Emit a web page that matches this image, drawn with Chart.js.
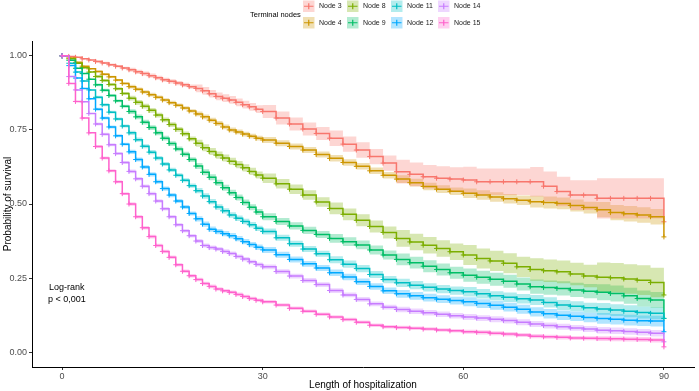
<!DOCTYPE html>
<html>
<head>
<meta charset="utf-8">
<script src="https://cdn.jsdelivr.net/npm/chart.js@4.4.1/dist/chart.umd.min.js"></script>
<style>
  html, body { margin: 0; padding: 0; background: #fff; }
  canvas { display: block; }
</style>
</head>
<body>
<canvas id="km" width="699" height="391"></canvas>
<script>
// time points (days of hospitalization)
const days = [0,1,2,3,4,5,6,7,8,9,10,11,12,13,14,15,16,17,18,19,20,21,22,23,24,25,26,27,28,29,30,
  32,34,36,38,40,42,44,46,48,50,52,54,56,58,60,62,64,66,68,70,72,74,76,78,80,82,84,86,88,90];

// survival probability per terminal node
const node3 = [1.0,0.998,0.995,0.99,0.986,0.981,0.976,0.97,0.965,0.959,0.953,0.946,0.94,0.933,0.926,0.919,0.914,0.908,0.902,0.896,0.89,0.882,0.872,0.863,0.857,0.851,0.843,0.835,0.828,0.82,0.812,
  0.79,0.77,0.753,0.738,0.722,0.702,0.682,0.66,0.638,0.609,0.6,0.592,0.587,0.584,0.581,0.575,0.575,0.575,0.575,0.575,0.56,0.542,0.53,0.53,0.519,0.519,0.519,0.519,0.519,0.44];
const node4 = [1.0,0.993,0.978,0.965,0.956,0.947,0.938,0.929,0.918,0.907,0.896,0.887,0.878,0.869,0.86,0.851,0.842,0.833,0.824,0.814,0.804,0.794,0.783,0.772,0.76,0.75,0.743,0.736,0.729,0.722,0.716,
  0.705,0.694,0.682,0.667,0.654,0.64,0.627,0.612,0.597,0.584,0.572,0.559,0.55,0.543,0.536,0.53,0.524,0.518,0.513,0.508,0.505,0.502,0.495,0.488,0.481,0.471,0.467,0.463,0.457,0.389];
const node8 = [1.0,0.99,0.975,0.96,0.945,0.93,0.917,0.903,0.889,0.873,0.857,0.843,0.83,0.816,0.8,0.784,0.768,0.752,0.737,0.72,0.705,0.69,0.677,0.665,0.655,0.644,0.633,0.622,0.61,0.598,0.587,
  0.568,0.55,0.53,0.507,0.485,0.465,0.445,0.424,0.404,0.384,0.372,0.361,0.35,0.339,0.328,0.316,0.308,0.3,0.288,0.279,0.275,0.271,0.264,0.257,0.253,0.251,0.247,0.243,0.235,0.193];
const node9 = [1.0,0.985,0.958,0.94,0.921,0.902,0.884,0.866,0.848,0.83,0.812,0.794,0.776,0.758,0.74,0.722,0.704,0.686,0.668,0.65,0.628,0.607,0.59,0.572,0.555,0.538,0.522,0.505,0.489,0.473,0.457,
  0.441,0.426,0.411,0.397,0.384,0.373,0.362,0.345,0.328,0.313,0.302,0.29,0.279,0.268,0.26,0.253,0.246,0.239,0.23,0.221,0.218,0.215,0.21,0.206,0.202,0.198,0.19,0.181,0.176,0.114];
const node11 = [1.0,0.975,0.945,0.915,0.885,0.86,0.835,0.81,0.787,0.763,0.74,0.717,0.695,0.675,0.655,0.635,0.615,0.597,0.58,0.562,0.545,0.527,0.508,0.49,0.477,0.463,0.452,0.441,0.43,0.418,0.407,
  0.386,0.366,0.348,0.332,0.312,0.297,0.282,0.262,0.245,0.234,0.226,0.219,0.213,0.208,0.204,0.197,0.19,0.185,0.18,0.176,0.168,0.159,0.155,0.15,0.146,0.142,0.138,0.134,0.131,0.114];
const node12 = [1.0,0.967,0.925,0.89,0.855,0.82,0.79,0.76,0.73,0.702,0.676,0.65,0.625,0.6,0.575,0.552,0.53,0.51,0.49,0.468,0.45,0.432,0.415,0.407,0.4,0.393,0.383,0.373,0.363,0.354,0.345,
  0.329,0.313,0.298,0.284,0.268,0.254,0.238,0.222,0.207,0.197,0.19,0.184,0.179,0.174,0.17,0.164,0.158,0.152,0.145,0.136,0.13,0.125,0.121,0.117,0.114,0.111,0.108,0.106,0.105,0.069];
const node14 = [1.0,0.93,0.885,0.845,0.805,0.77,0.735,0.7,0.67,0.64,0.61,0.585,0.56,0.535,0.51,0.484,0.457,0.43,0.41,0.393,0.375,0.36,0.353,0.348,0.34,0.333,0.323,0.314,0.305,0.296,0.288,
  0.272,0.257,0.242,0.228,0.208,0.193,0.178,0.163,0.152,0.144,0.138,0.133,0.128,0.123,0.119,0.115,0.111,0.107,0.101,0.095,0.09,0.086,0.082,0.078,0.074,0.072,0.07,0.067,0.064,0.035];
const node15 = [1.0,0.907,0.846,0.79,0.74,0.694,0.655,0.612,0.575,0.535,0.5,0.457,0.42,0.39,0.36,0.34,0.32,0.295,0.273,0.258,0.245,0.232,0.222,0.213,0.207,0.202,0.195,0.188,0.181,0.175,0.17,
  0.159,0.148,0.138,0.128,0.119,0.11,0.101,0.091,0.086,0.083,0.081,0.078,0.075,0.072,0.069,0.067,0.064,0.061,0.058,0.054,0.052,0.05,0.048,0.047,0.046,0.045,0.044,0.043,0.041,0.018];

// half width of the confidence band, from each of these days on
const bandDays = [0,5,10,20,30,40,50,60,70,80];
const band3  = [0,0.004,0.007,0.013,0.022,0.026,0.04,0.045,0.05,0.068];
const band4  = [0,0.004,0.006,0.008,0.01,0.011,0.013,0.016,0.02,0.026];
const band8  = [0,0.005,0.008,0.012,0.016,0.02,0.028,0.034,0.038,0.05];
const band9  = [0,0.005,0.008,0.01,0.012,0.015,0.02,0.022,0.024,0.027];
const band11 = [0,0.005,0.007,0.009,0.01,0.012,0.014,0.016,0.017,0.02];
const band12 = [0,0.005,0.007,0.009,0.01,0.011,0.013,0.015,0.016,0.018];
const band14 = [0,0.005,0.006,0.007,0.008,0.008,0.009,0.01,0.01,0.011];
const band15 = [0,0.005,0.006,0.006,0.006,0.006,0.006,0.007,0.007,0.008];

const nodeNames = ['Node 3','Node 4','Node 8','Node 9','Node 11','Node 12','Node 14','Node 15'];
const nodeColors = ['#F8766D','#CD9600','#7CAE00','#00BE67','#00BFC4','#00A9FF','#C77CFF','#FF61CC'];
const xTicks = [0,30,60,90];
const yTicks = [0,0.25,0.5,0.75,1];

const FONT = "'Liberation Sans', Arial, sans-serif";
const series = [node3, node4, node8, node9, node11, node12, node14, node15];
const bands = [band3, band4, band8, band9, band11, band12, band14, band15];

function rgba(hex, a) {
  const n = parseInt(hex.slice(1), 16);
  return `rgba(${(n >> 16) & 255},${(n >> 8) & 255},${n & 255},${a})`;
}

function halfAt(arr, d) {
  let v = arr[0];
  bandDays.forEach((b, i) => { if (b <= d) v = arr[i]; });
  return v;
}

const datasets = [];
series.forEach((vals, k) => {
  const hw = days.map(d => halfAt(bands[k], d));
  datasets.push({
    label: nodeNames[k] + ' upper',
    data: days.map((d, i) => ({ x: d, y: Math.min(1, vals[i] + hw[i]) })),
    stepped: true, borderColor: 'rgba(0,0,0,0)', borderWidth: 0,
    pointRadius: 0, fill: false, order: 10
  });
  datasets.push({
    label: nodeNames[k] + ' lower',
    data: days.map((d, i) => ({ x: d, y: Math.max(0, vals[i] - hw[i]) })),
    stepped: true, borderColor: 'rgba(0,0,0,0)', borderWidth: 0,
    pointRadius: 0, fill: '-1', backgroundColor: rgba(nodeColors[k], 0.3), order: 10
  });
});
series.forEach((vals, k) => {
  datasets.push({
    label: nodeNames[k],
    data: days.map((d, i) => ({ x: d, y: vals[i] })),
    stepped: true,
    borderColor: nodeColors[k],
    borderWidth: 1.5,
    pointStyle: 'cross',
    pointRadius: 2.5,
    pointBorderWidth: 1,
    pointBorderColor: nodeColors[k],
    fill: false,
    order: 8 - k
  });
});

// legend on top (2 rows x 4 columns) and the log-rank note
const annotations = {
  id: 'annotations',
  afterDraw(chart) {
    const ctx = chart.ctx;
    ctx.save();
    ctx.textBaseline = 'middle';
    ctx.fillStyle = '#000';
    ctx.font = `7.5px ${FONT}`;
    ctx.textAlign = 'left';
    ctx.fillText('Terminal nodes', 250, 14.5);

    const colX = [303, 347, 391, 438];
    const rowY = [0.5, 17];
    const order = [[0, 2, 4, 6], [1, 3, 5, 7]];
    ctx.font = `7px ${FONT}`;
    order.forEach((row, r) => {
      row.forEach((k, c) => {
        const x = colX[c], y = rowY[r], s = 11.5;
        ctx.fillStyle = rgba(nodeColors[k], 0.3);
        ctx.fillRect(x, y, s, s);
        ctx.strokeStyle = nodeColors[k];
        ctx.lineWidth = 1.2;
        ctx.beginPath();
        ctx.moveTo(x + 1, y + s / 2);
        ctx.lineTo(x + s - 1, y + s / 2);
        ctx.moveTo(x + s / 2, y + s / 2 - 3);
        ctx.lineTo(x + s / 2, y + s / 2 + 3);
        ctx.stroke();
        ctx.fillStyle = '#1a1a1a';
        ctx.fillText(nodeNames[k], x + 16, y + s / 2);
      });
    });

    ctx.font = `9px ${FONT}`;
    ctx.fillStyle = '#000';
    ctx.fillText('Log-rank', 49, 288);
    ctx.fillText('p < 0,001', 48, 300);
    ctx.restore();
  }
};

new Chart(document.getElementById('km'), {
  type: 'line',
  data: { datasets },
  plugins: [annotations],
  options: {
    responsive: false,
    animation: false,
    events: [],
    layout: { padding: { top: 41, right: 1, left: 0, bottom: 0 } },
    plugins: { legend: { display: false }, tooltip: { enabled: false } },
    scales: {
      x: {
        type: 'linear', min: -4.5, max: 94.5,
        afterBuildTicks: s => { s.ticks = xTicks.map(v => ({ value: v })); },
        afterFit: s => { s.height = 24; },
        ticks: { color: '#4D4D4D', font: { family: FONT, size: 9 }, padding: 1, maxRotation: 0, autoSkip: false },
        grid: { drawOnChartArea: false, drawTicks: true, tickLength: 3, color: '#333' },
        border: { display: true, color: '#000', width: 1 },
        title: { display: true, text: 'Length of hospitalization', color: '#000',
                 font: { family: FONT, size: 10 }, padding: { top: 0, bottom: 0 } }
      },
      y: {
        type: 'linear', min: -0.05, max: 1.05,
        afterBuildTicks: s => { s.ticks = yTicks.map(v => ({ value: v })); },
        afterFit: s => { s.width = 32; },
        ticks: { color: '#4D4D4D', font: { family: FONT, size: 9 }, padding: 2,
                 callback: v => v.toFixed(2) },
        grid: { drawOnChartArea: false, drawTicks: true, tickLength: 3, color: '#333' },
        border: { display: true, color: '#000', width: 1 },
        title: { display: true, text: 'Probability of survival', color: '#000',
                 font: { family: FONT, size: 10 }, padding: { top: 2, bottom: 0 } }
      }
    }
  }
});
</script>
</body>
</html>
